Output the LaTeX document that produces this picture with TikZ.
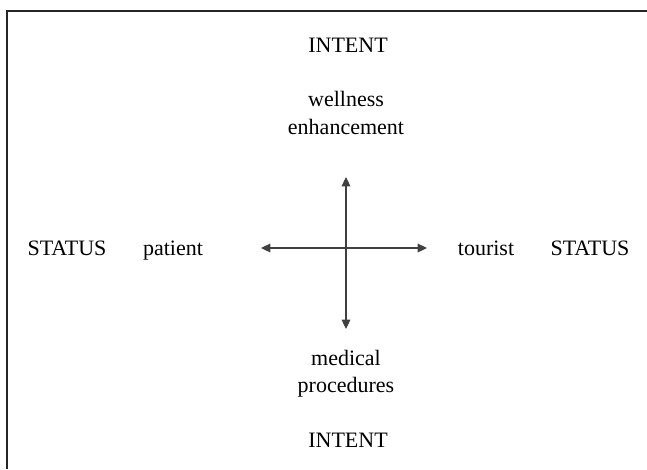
\documentclass[tikz,border=0pt]{standalone}
\usepackage{fontspec}
\setmainfont{Liberation Serif}
\usetikzlibrary{arrows.meta}

\begin{document}
\begin{tikzpicture}[
    x=0.75pt, y=-0.75pt,
    label/.style={inner sep=0pt, align=center, font=\fontsize{16.5}{20.3}\selectfont},
    axis/.style={{Triangle[length=7pt, width=6.5pt]}-{Triangle[length=7pt, width=6.5pt]}, line width=0.8pt, draw=black!75} % double arrow
]
\useasboundingbox (0,0) rectangle (647,469);

% frame (top and left only)
\draw[line width=1.2pt, black!85] (647,11) -- (7,11) -- (7,469);

% labels
\node[label] (intentTop) at (348,45) {INTENT};
\node[label] (wellness) at (346,113) {wellness\\enhancement};
\node[label] (medical) at (346,374) {medical\\procedures};
\node[label] (intentBot) at (348,440) {INTENT};
\node[label, anchor=base] (statusL) at (67,255) {STATUS};
\node[label, anchor=base] (patient) at (173,255) {patient};
\node[label, anchor=base] (tourist) at (486,255) {tourist};
\node[label, anchor=base] (statusR) at (590,255) {STATUS};

% axis ends
\coordinate (top) at (346,177);
\coordinate (bottom) at (346,329);
\coordinate (left) at (261,248);
\coordinate (right) at (427,248);

\draw[axis] (bottom) -- (top);
\draw[axis] (left) -- (right);

\end{tikzpicture}
\end{document}
